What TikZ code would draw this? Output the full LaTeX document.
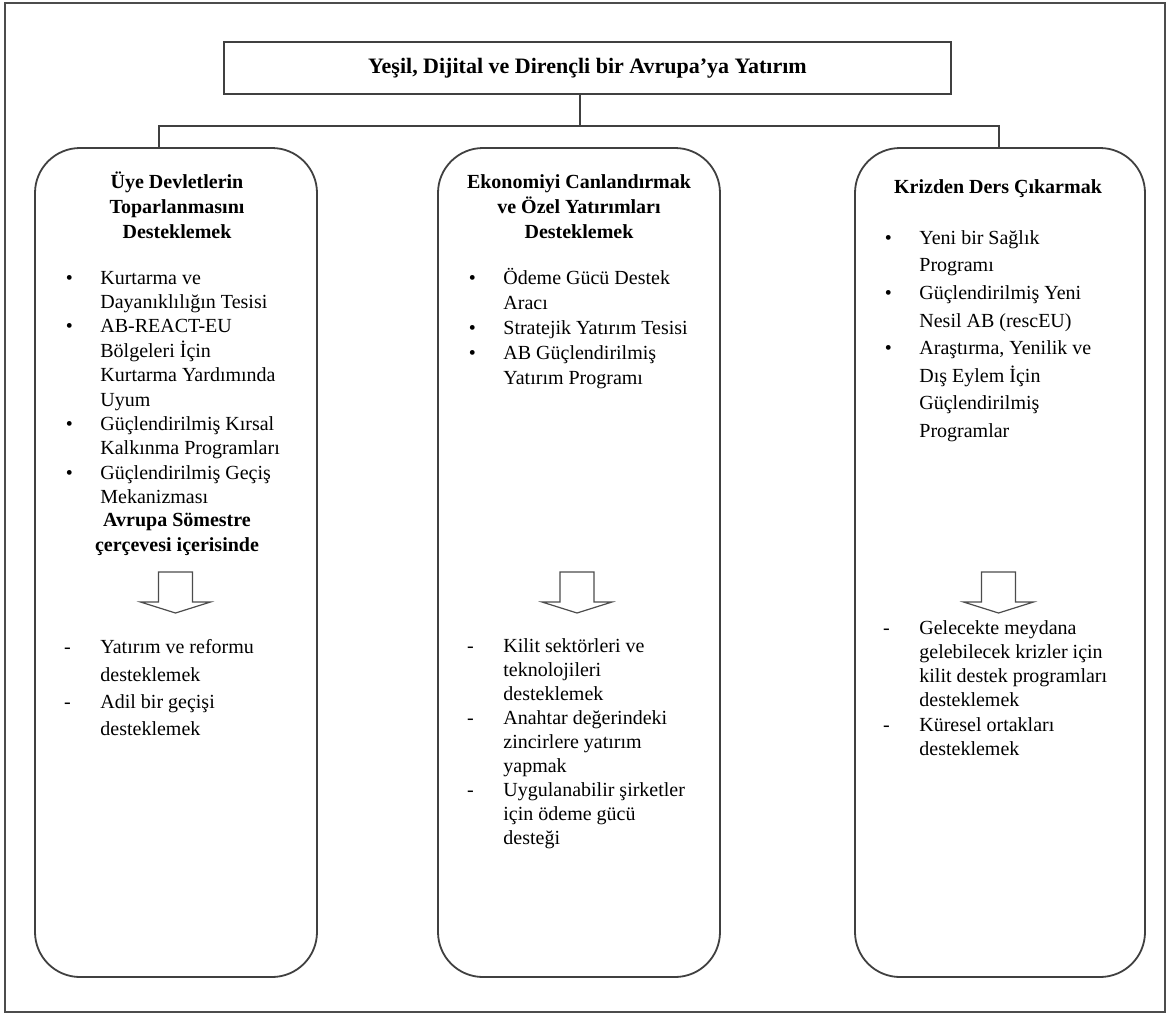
\documentclass[tikz,border=0pt]{standalone}
\usepackage{fontspec}
\setmainfont{Liberation Serif}
\tikzset{
  frame/.style={draw=black!70, line width=1pt},
  panel/.style={draw=black!75, line width=0.9pt, rounded corners=22.5pt, inner sep=0pt},
  headbox/.style={draw=black!75, line width=0.9pt, inner sep=0pt, minimum width=363.5pt, minimum height=26pt, font=\fontsize{11}{13}\selectfont\bfseries},
  link/.style={draw=black!75, line width=0.8pt},
  hollow/.style={draw=black!70, line width=0.6pt, fill=white},
  lst/.style={inner sep=0pt, anchor=north west, align=left, font=\fontsize{10}{#1}\selectfont, execute at begin node=\strut},
  ttl/.style={inner sep=0pt, anchor=north, align=center, font=\fontsize{10}{#1}\selectfont\bfseries, execute at begin node=\strut}
}
\newcommand{\bul}{\llap{\textbullet\hspace{13.75pt}}}
\newcommand{\dsh}{\llap{-\hspace{14.8pt}}}

\begin{document}
\begin{tikzpicture}[x=0.5pt, y=-0.5pt]
    \useasboundingbox (0,0) rectangle (1167,1014);
    \draw[frame] (5,3) rectangle (1165,1012);

    % === Top box ===
    \node[headbox] (top) at (587.5,68) {Yeşil, Dijital ve Dirençli bir Avrupa’ya Yatırım};

    % === Three panels ===
    \node[panel, minimum width=141pt, minimum height=414.5pt] (p1) at (176,562.5) {};
    \node[panel, minimum width=141pt, minimum height=414.5pt] (p2) at (579,562.5) {};
    \node[panel, minimum width=145pt, minimum height=414.5pt] (p3) at (1000,562.5) {};

    % connectors
    \coordinate (jl) at (159,126);
    \coordinate (jc) at (580,126);
    \coordinate (jr) at (999,126);
    \draw[link] (top.south -| jc) -- (jc);
    \draw[link] (p1.north -| jl) -- (jl) -- (jr) -- (p3.north -| jr);

    % hollow down arrows
    \foreach \cx in {175.5,577,998.5} {
        \draw[hollow] ({\cx-17},572) -- ({\cx-17},602) -- ({\cx-35},602) -- (\cx,613)
            -- ({\cx+35},602) -- ({\cx+17},602) -- ({\cx+17},572) -- cycle;
    }

    % === Left panel ===
    \node[ttl=12.5pt] (t1) at (177,171) {Üye Devletlerin\\Toparlanmasını\\Desteklemek};
    \node[lst=12.2pt] (b1) at (100,270.5) {\bul Kurtarma ve\\Dayanıklılığın Tesisi\\
        \bul AB-REACT-EU\\Bölgeleri İçin\\Kurtarma Yardımında\\Uyum\\
        \bul Güçlendirilmiş Kırsal\\Kalkınma Programları\\
        \bul Güçlendirilmiş Geçiş\\Mekanizması};
    \node[ttl=12.4pt] (s1) at (177,513) {Avrupa Sömestre\\çerçevesi içerisinde};
    \node[lst=13.65pt] (o1) at (100,639.5) {\dsh Yatırım ve reformu\\desteklemek\\
        \dsh Adil bir geçişi\\desteklemek};

    % === Middle panel ===
    \node[ttl=12.5pt] (t2) at (579,174) {Ekonomiyi Canlandırmak\\ve Özel Yatırımları\\Desteklemek};
    \node[lst=12.5pt] (b2) at (503,268) {\bul Ödeme Gücü Destek\\Aracı\\
        \bul Stratejik Yatırım Tesisi\\
        \bul AB Güçlendirilmiş\\Yatırım Programı};
    \node[lst=12pt] (o2) at (503,638) {\dsh Kilit sektörleri ve\\teknolojileri\\desteklemek\\
        \dsh Anahtar değerindeki\\zincirlere yatırım\\yapmak\\
        \dsh Uygulanabilir şirketler\\için ödeme gücü\\desteği};

    % === Right panel ===
    \node[ttl=12.5pt] (t3) at (998,176) {Krizden Ders Çıkarmak};
    \node[lst=13.8pt] (b3) at (919,230) {\bul Yeni bir Sağlık\\Programı\\
        \bul Güçlendirilmiş Yeni\\Nesil AB (rescEU)\\
        \bul Araştırma, Yenilik ve\\Dış Eylem İçin\\Güçlendirilmiş\\Programlar};
    \node[lst=12.1pt] (o3) at (919,620) {\dsh Gelecekte meydana\\gelebilecek krizler için\\kilit destek programları\\desteklemek\\
        \dsh Küresel ortakları\\desteklemek};
\end{tikzpicture}
\end{document}
